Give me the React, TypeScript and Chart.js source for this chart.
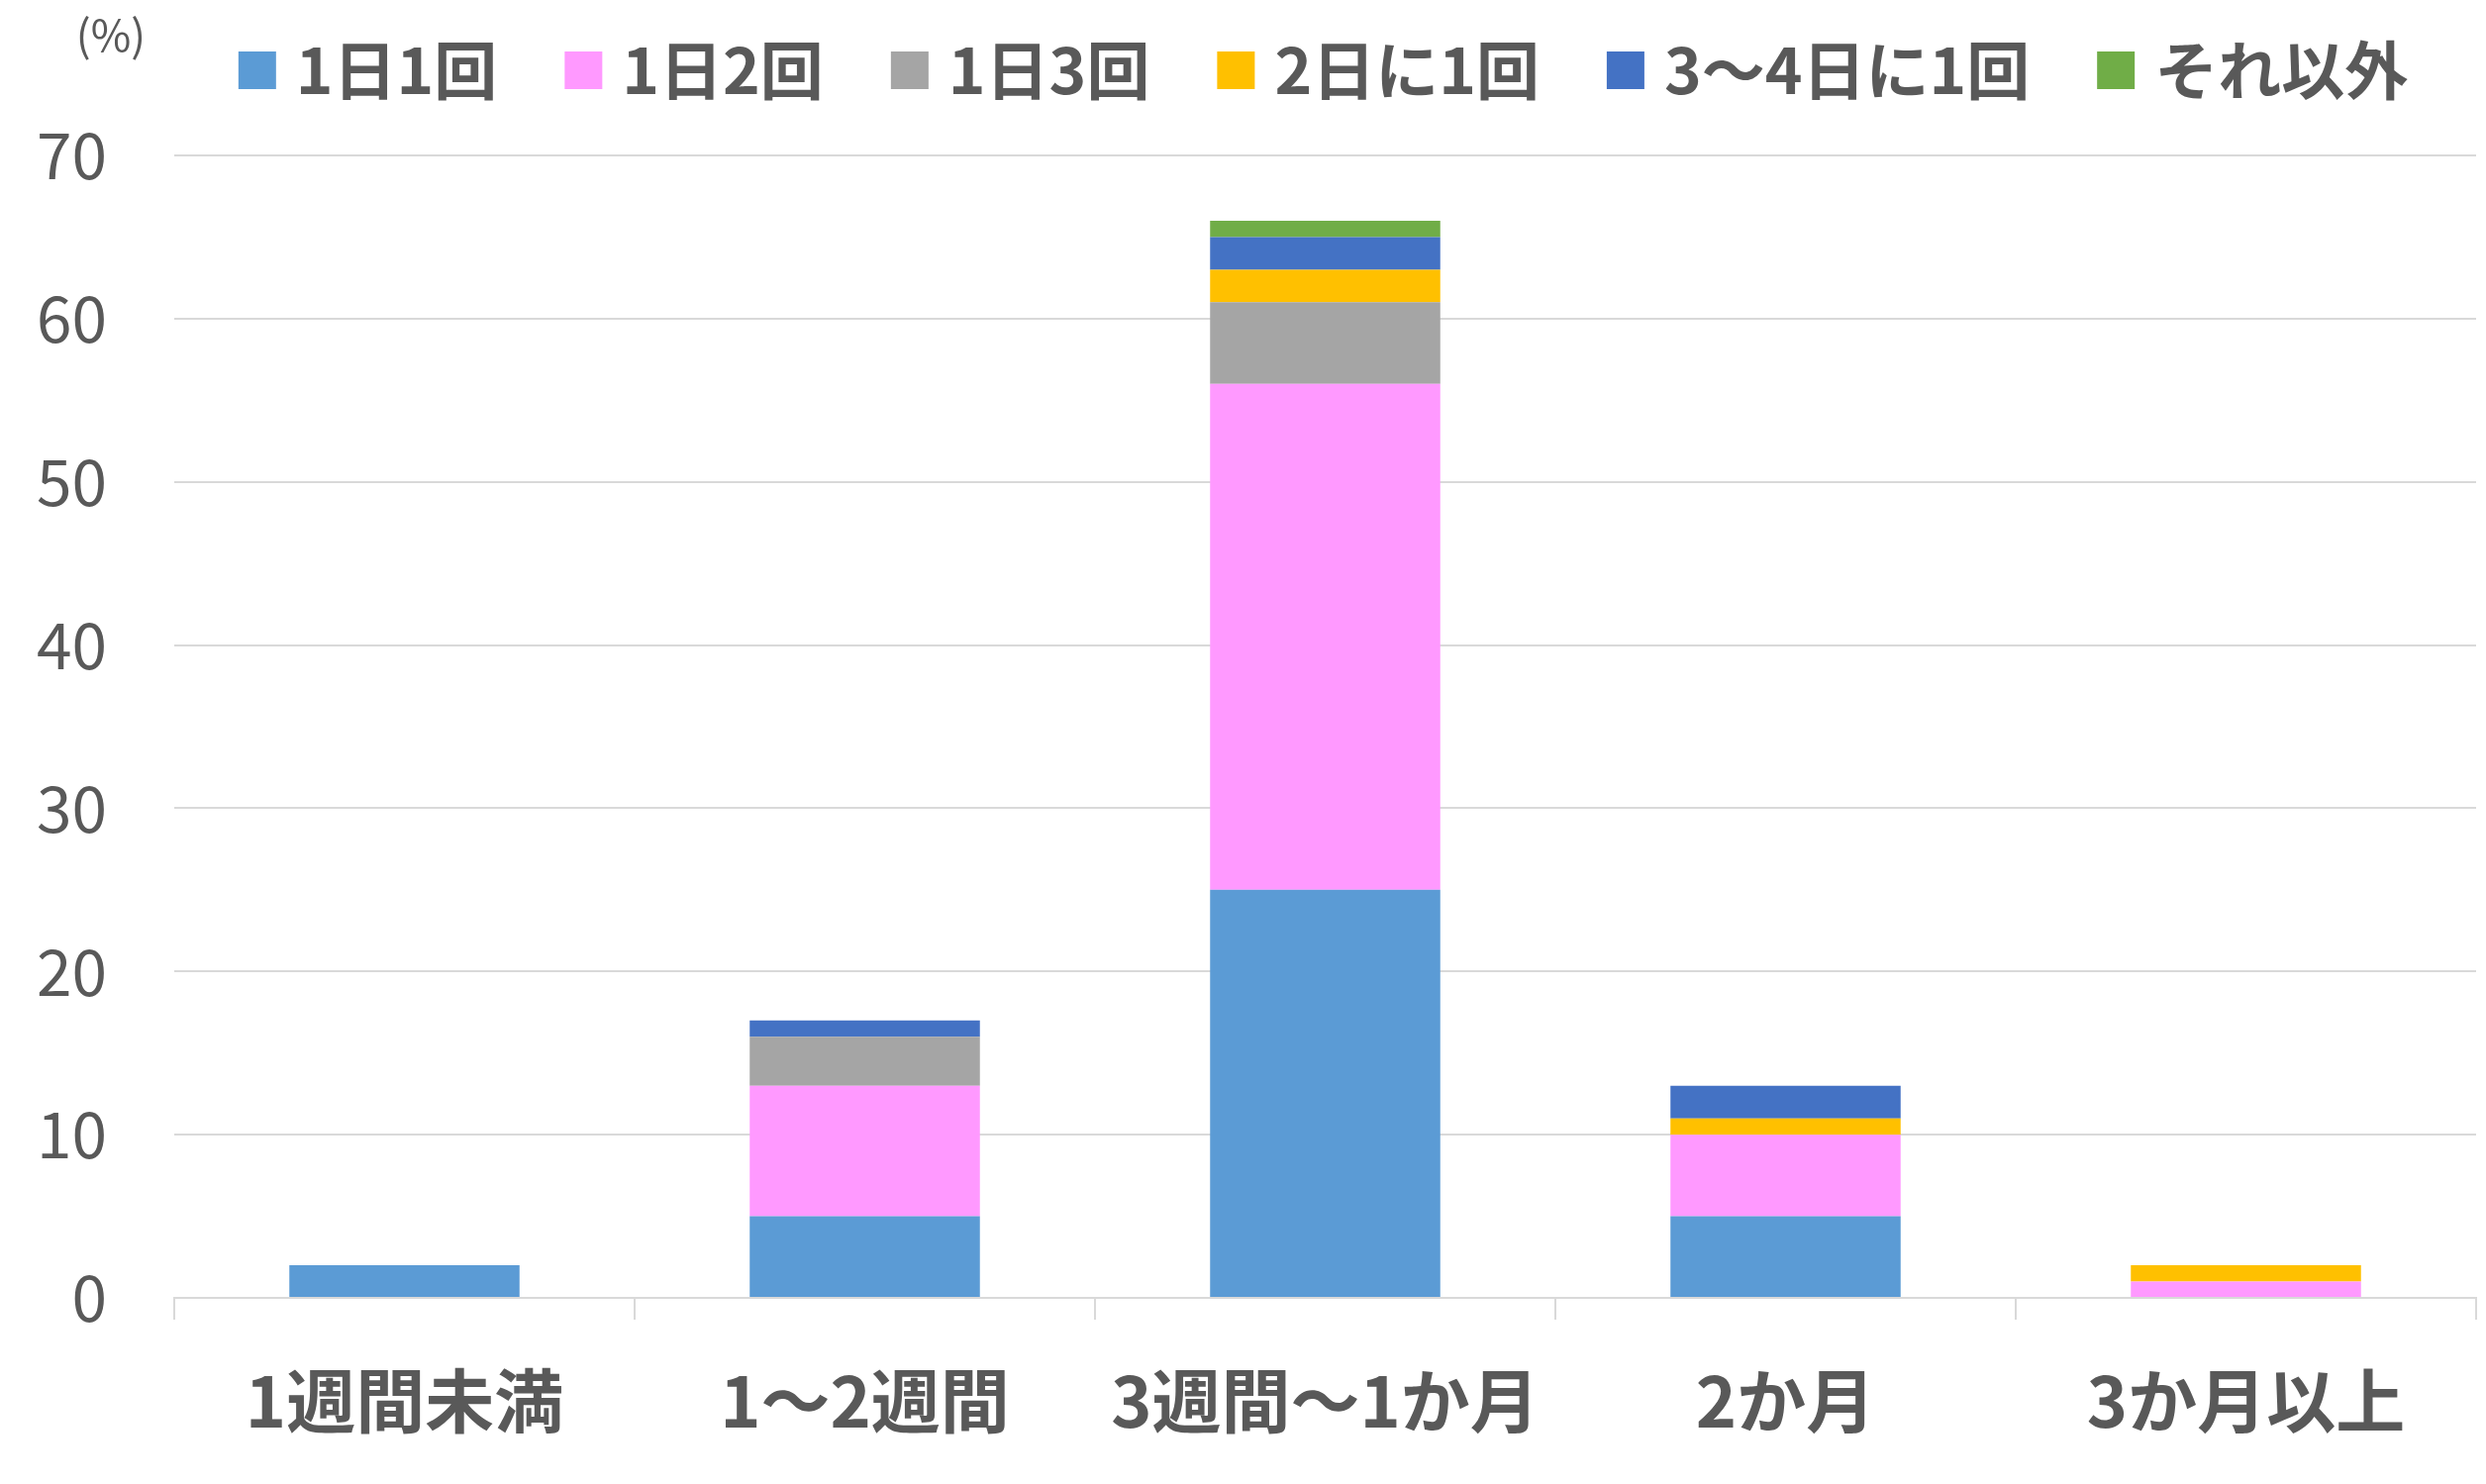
import React, { useEffect, useRef } from "react";
import { Chart, registerables } from "chart.js";

Chart.register(...registerables);

// ---- data ----
const categories = ["1週間未満", "1～2週間", "3週間～1か月", "2か月", "3か月以上"];
const seriesNames = ["1日1回", "1日2回", "1日3回", "2日に1回", "3～4日に1回", "それ以外"];
const onceDaily = [2, 5, 25, 5, 0];
const twiceDaily = [0, 8, 31, 5, 1];
const thriceDaily = [0, 3, 5, 0, 0];
const everyTwoDays = [0, 0, 2, 1, 1];
const everyThreeFourDays = [0, 1, 2, 2, 0];
const otherFreq = [0, 0, 1, 0, 0];
const yTickValues = [0, 10, 20, 30, 40, 50, 60, 70];
const unitLabel = "(%)";

const seriesValues = [onceDaily, twiceDaily, thriceDaily, everyTwoDays, everyThreeFourDays, otherFreq];
const seriesColors = ["#5B9BD5", "#FF99FF", "#A5A5A5", "#FFC000", "#4472C4", "#70AD47"];

const W = 2511;
const H = 1499;
const FONT = "'Noto Sans CJK JP', 'Noto Sans', sans-serif";
const TEXT = "#595959";
const GRID = "#D9D9D9";

const customLegend = {
  id: "customLegend",
  afterDraw(chart: any) {
    const ctx = chart.ctx as CanvasRenderingContext2D;
    const { left, right } = chart.chartArea;
    ctx.save();
    ctx.font = `bold 64px ${FONT}`;
    const box = 38;
    const gap = 20;
    const itemGap = 68;
    const items = chart.data.datasets.map((ds: any) => ({
      label: ds.label as string,
      color: ds.backgroundColor as string,
      w: ctx.measureText(ds.label).width,
    }));
    const total =
      items.reduce((s: number, it: any) => s + box + gap + it.w, 0) + itemGap * (items.length - 1);
    let x = (left + right) / 2 - total / 2 - 2;
    const cy = 71;
    ctx.textBaseline = "middle";
    ctx.textAlign = "left";
    for (const it of items) {
      ctx.fillStyle = it.color;
      ctx.fillRect(x, cy - 19, box, 38);
      ctx.fillStyle = TEXT;
      ctx.fillText(it.label, x + box + gap, cy);
      x += box + gap + it.w + itemGap;
    }
    // unit label
    ctx.font = `44px ${FONT}`;
    ctx.textAlign = "center";
    ctx.fillStyle = TEXT;
    ctx.fillText(unitLabel, 112, 35);
    ctx.restore();
  },
};

export default function App() {
  const ref = useRef<HTMLCanvasElement | null>(null);

  useEffect(() => {
    document.body.style.margin = "0";
    const canvas = ref.current;
    if (!canvas) return;
    const chart = new Chart(canvas, {
      type: "bar",
      data: {
        labels: categories,
        datasets: seriesNames.map((name, i) => ({
          label: name,
          data: seriesValues[i],
          backgroundColor: seriesColors[i],
          borderWidth: 0,
          barPercentage: 0.5,
          categoryPercentage: 1,
        })),
      },
      options: {
        responsive: false,
        animation: false,
        devicePixelRatio: 1,
        layout: { padding: { top: 157, right: 10, bottom: 0, left: 0 } },
        plugins: {
          legend: { display: false },
          tooltip: { enabled: false },
          title: { display: false },
        },
        scales: {
          x: {
            stacked: true,
            offset: true,
            afterFit: (scale: any) => {
              scale.height = H - 1311;
            },
            grid: {
              display: true,
              drawOnChartArea: false,
              drawTicks: true,
              tickLength: 22,
              color: GRID,
              lineWidth: 2,
              offset: true,
            },
            border: { display: true, color: GRID, width: 2 },
            ticks: {
              color: TEXT,
              padding: 40,
              font: { family: FONT, size: 70, weight: "bold" },
              maxRotation: 0,
              autoSkip: false,
            },
          },
          y: {
            stacked: true,
            min: 0,
            max: 70,
            afterFit: (scale: any) => {
              scale.width = 176;
            },
            afterBuildTicks: (scale: any) => {
              scale.ticks = yTickValues.map((v) => ({ value: v }));
            },
            grid: {
              color: GRID,
              lineWidth: 2,
              drawTicks: false,
            },
            border: { display: false },
            ticks: {
              color: TEXT,
              padding: 68,
              font: { family: FONT, size: 64 },
            },
          },
        },
      },
      plugins: [customLegend],
    });
    return () => chart.destroy();
  }, []);

  return (
    <div style={{ position: "fixed", left: 0, top: 0, width: W, height: H, background: "#fff" }}>
      <canvas ref={ref} width={W} height={H} style={{ display: "block" }} />
    </div>
  );
}
